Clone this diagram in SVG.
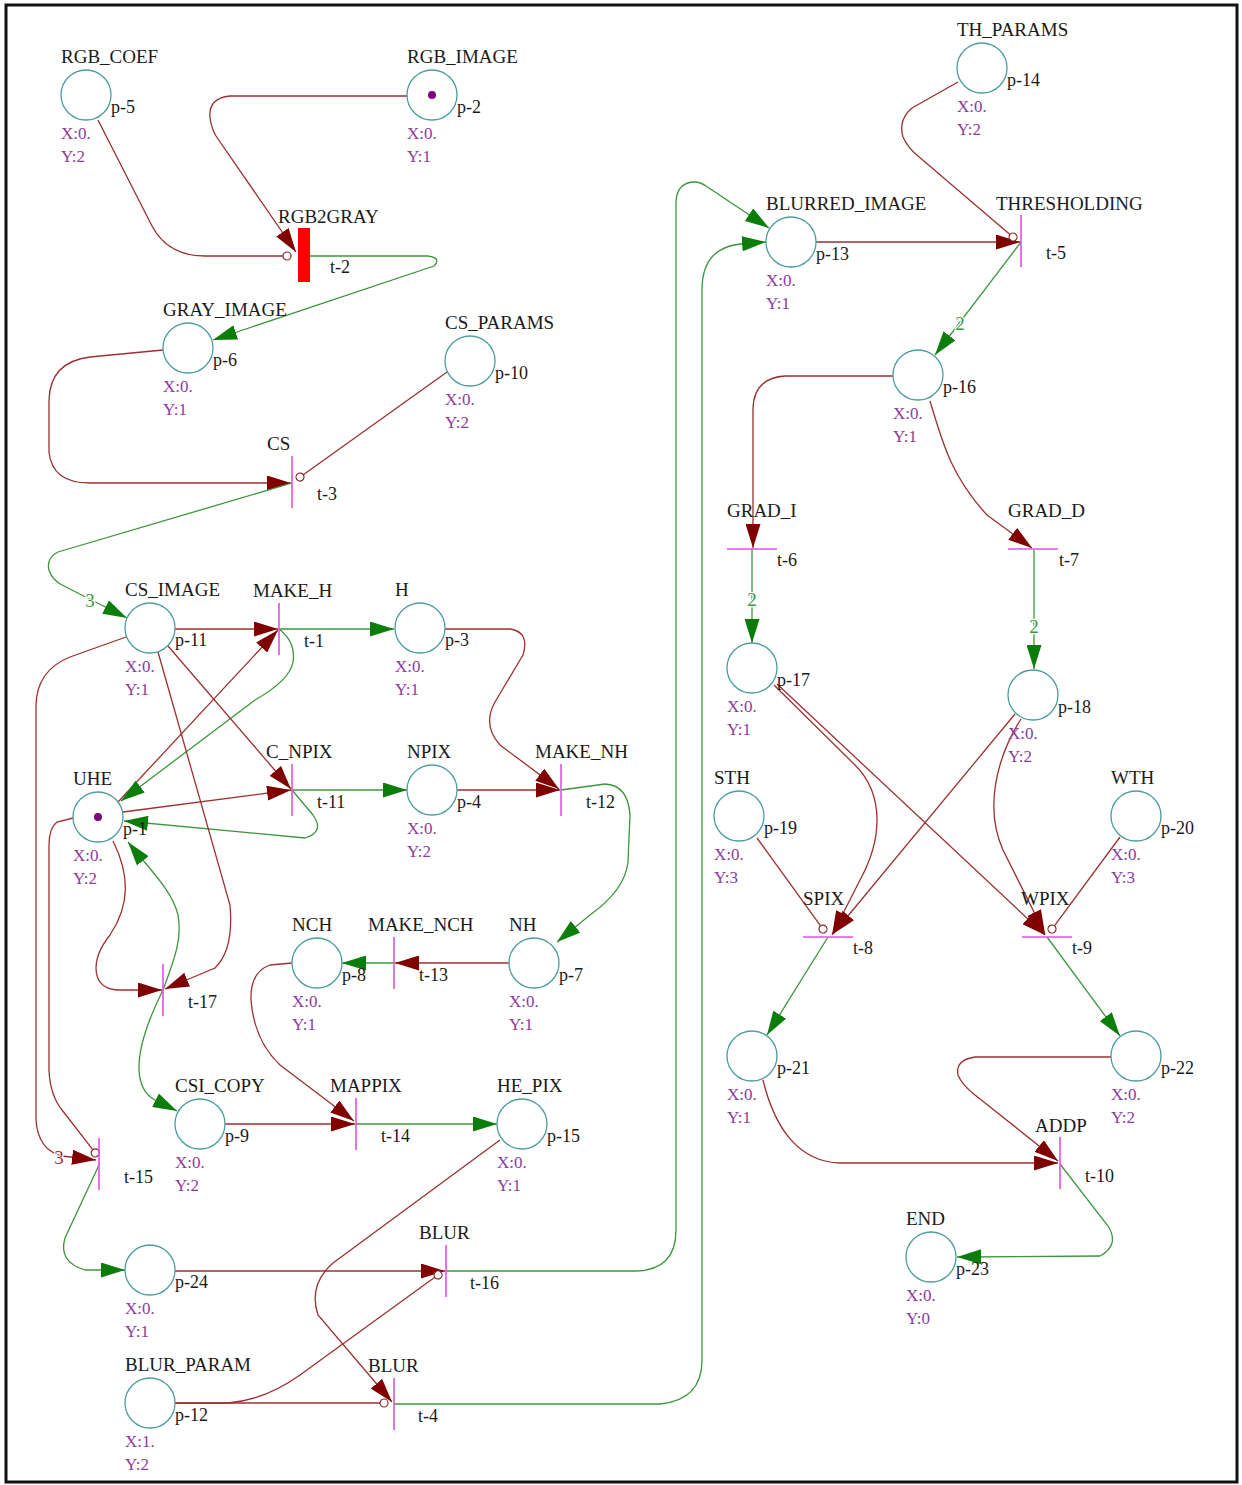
<svg xmlns="http://www.w3.org/2000/svg" width="1242" height="1485" viewBox="0 0 1242 1485">
<style>
.nm{font-family:"Liberation Serif",serif;font-size:19px;fill:#1a1a1a}
.id{font-family:"Liberation Serif",serif;font-size:18px;fill:#1a1a1a}
.xy{font-family:"Liberation Serif",serif;font-size:17px;fill:#8e3b9e}
.w{font-family:"Liberation Serif",serif;font-size:19px;stroke:#fff;stroke-width:2.5;paint-order:stroke}
.pl{fill:#fff;stroke:#4d9d9d;stroke-width:1.3}
.tr{stroke:#e050e0;stroke-width:1.6}
.tk{fill:#800080}
.r{fill:none;stroke:#9b3030;stroke-width:1.3}
.g{fill:none;stroke:#3c963c;stroke-width:1.3}
.ra{marker-end:url(#ar)}
.ga{marker-end:url(#ag)}
.rt{marker-end:url(#tc)}
</style>
<defs>
<marker id="ar" markerUnits="userSpaceOnUse" markerWidth="24" markerHeight="15" refX="24" refY="7.5" orient="auto" viewBox="0 0 24 15"><path d="M0,0 L24,7.5 L0,15 z" fill="#800000"/></marker>
<marker id="ag" markerUnits="userSpaceOnUse" markerWidth="24" markerHeight="15" refX="24" refY="7.5" orient="auto" viewBox="0 0 24 15"><path d="M0,0 L24,7.5 L0,15 z" fill="#0a7d0a"/></marker>
<marker id="tc" markerUnits="userSpaceOnUse" markerWidth="10" markerHeight="10" refX="1" refY="5" orient="auto" viewBox="0 0 10 10"><circle cx="5" cy="5" r="4" fill="#fff" stroke="#8b2a2a" stroke-width="1.2"/></marker>
</defs>
<rect x="0" y="0" width="1242" height="1485" fill="#fff"/>
<rect x="6" y="5" width="1231" height="1477" fill="none" stroke="#111" stroke-width="3"/>

<g id="connectors">
<path class="r rt" d="M98 120 L152 226 Q168 256 205 256 L283 256"/>
<path class="r ra" d="M407 96 L230 96 Q208 98 210 118 Q212 130 216 136 L296 252"/>
<path class="g ga" d="M310 256 L428 256 Q442 258 434 266 L213 340"/>
<path class="r ra" d="M163 350 L90 357 Q50 362 49 400 L49 452 Q52 483 90 483 L291 483"/>
<path class="r rt" d="M447 372 L303.3 474.7"/>
<path class="g ga" d="M292 483 L58 552 Q46 558 49 570 Q52 580 62 585 L127 618"/>
<path class="r ra" d="M175 629 L278 629"/>
<path class="g ga" d="M279 629 L394 629"/>
<path class="r ra" d="M118 802 L278 630"/>
<path class="g ga" d="M279 629 Q296 642 293 662 Q290 680 255 700 L121 801"/>
<path class="r ra" d="M445 629 L510 629 Q530 632 523 655 L495 702 Q482 725 500 745 L559 789"/>
<path class="r ra" d="M457 790 L560 790"/>
<path class="g ga" d="M561 790 L605 784 Q628 785 630 815 L628 862 Q625 890 590 915 L557 942"/>
<path class="r ra" d="M168 646 L291 789"/>
<path class="r ra" d="M123 812 L291 790"/>
<path class="g ga" d="M292 790 L407 790"/>
<path class="g ga" d="M292 790 L313 815 Q325 832 305 838 L124 821"/>
<path class="r ra" d="M158 652 L230 905 Q234 950 215 968 L165 989"/>
<path class="r ra" d="M113 841 C130 875 130 905 110 935 C90 960 90 990 120 990 L162 990"/>
<path class="g ga" d="M163 990 C172 965 183 940 178 915 C172 890 150 870 128 842"/>
<path class="g ga" d="M163 990 Q138 1040 139 1070 Q140 1092 155 1100 L177 1111"/>
<path class="r ra" d="M126 637 L70 657 Q37 670 36 705 L36 1120 Q38 1150 62 1156 L96 1160"/>
<path class="r rt" d="M73 818 L57 822 Q49 828 49 845 L49 1070 Q50 1095 62 1110 L92.8 1149.7"/>
<path class="g ga" d="M99 1165 L65 1238 Q58 1262 85 1270 L125 1270"/>
<path class="r ra" d="M225 1124 L355 1124"/>
<path class="r ra" d="M292 963 L270 965 Q250 972 251 1000 Q254 1040 280 1065 L354 1121"/>
<path class="g ga" d="M356 1124 L497 1124"/>
<path class="r ra" d="M509 963 L395 963"/>
<path class="g ga" d="M394 963 L342 963"/>
<path class="r ra" d="M175 1271 L445 1271"/>
<path class="r rt" d="M175 1403 L228 1403 Q265 1400 300 1375 L434.8 1277.3"/>
<path class="g ga" d="M446 1271 L636 1271 Q676 1270 676 1230 L676 202 Q677 182 695 182 Q700 182 706 186 L769 228"/>
<path class="r rt" d="M175 1403 L380 1403"/>
<path class="r ra" d="M500 1140 L333 1263 Q308 1285 318 1315 L392 1402"/>
<path class="g ga" d="M394 1404 L660 1404 Q702 1400 702 1360 L702 290 Q702 248 740 244 L766 242"/>
<path class="r ra" d="M816 242 L1020 242"/>
<path class="r rt" d="M958 82 L912 108 Q898 120 903 137 Q908 148 918 156 L1010 234.4"/>
<path class="g ga" d="M1021 242 L935 355"/>
<path class="r ra" d="M893 376 L785 376 Q753 378 753 410 L753 548"/>
<path class="g ga" d="M752 549 L752 643"/>
<path class="r ra" d="M930 401 C942 440 950 475 987 515 L1032 548"/>
<path class="g ga" d="M1034 550 L1034 669"/>
<path class="r ra" d="M774 685 L855 765 C885 795 882 840 860 880 L832 935"/>
<path class="r ra" d="M1015 714 L833 934"/>
<path class="r ra" d="M777 684 L1045 935"/>
<path class="r ra" d="M1021 719 C995 760 985 810 1003 850 L1045 934"/>
<path class="r rt" d="M757 838 L820.6 925.8"/>
<path class="r rt" d="M1120 837 L1054.4 925.8"/>
<path class="g ga" d="M828 937 L767 1035"/>
<path class="g ga" d="M1047 937 L1120 1036"/>
<path class="r ra" d="M763 1080 C775 1130 800 1162 840 1163 L1058 1163"/>
<path class="r ra" d="M1111 1057 L975 1057 Q955 1060 958 1075 Q962 1085 975 1095 L1058 1161"/>
<path class="g ga" d="M1060 1164 L1108 1226 Q1120 1245 1100 1256 L957 1257"/>
<text class="w" x="90" y="607" text-anchor="middle" fill="#3c963c">3</text>
<text class="w" x="59" y="1164" text-anchor="middle" fill="#9b3030">3</text>
<text class="w" x="960" y="330" text-anchor="middle" fill="#3c963c">2</text>
<text class="w" x="752" y="606" text-anchor="middle" fill="#3c963c">2</text>
<text class="w" x="1034" y="633" text-anchor="middle" fill="#3c963c">2</text>
</g>

<g id="p-5"><circle class="pl" cx="86" cy="95" r="25"/><text class="nm" x="61" y="63">RGB_COEF</text><text class="id" x="111" y="113">p-5</text><text class="xy" x="61" y="139">X:0.</text><text class="xy" x="61" y="162">Y:2</text></g>
<g id="p-2"><circle class="pl" cx="432" cy="95" r="25"/><circle class="tk" cx="432" cy="95" r="4"/><text class="nm" x="407" y="63">RGB_IMAGE</text><text class="id" x="457" y="113">p-2</text><text class="xy" x="407" y="139">X:0.</text><text class="xy" x="407" y="162">Y:1</text></g>
<g id="p-14"><circle class="pl" cx="982" cy="68" r="25"/><text class="nm" x="957" y="36">TH_PARAMS</text><text class="id" x="1007" y="86">p-14</text><text class="xy" x="957" y="112">X:0.</text><text class="xy" x="957" y="135">Y:2</text></g>
<g id="p-13"><circle class="pl" cx="791" cy="242" r="25"/><text class="nm" x="766" y="210">BLURRED_IMAGE</text><text class="id" x="816" y="260">p-13</text><text class="xy" x="766" y="286">X:0.</text><text class="xy" x="766" y="309">Y:1</text></g>
<g id="p-6"><circle class="pl" cx="188" cy="348" r="25"/><text class="nm" x="163" y="316">GRAY_IMAGE</text><text class="id" x="213" y="366">p-6</text><text class="xy" x="163" y="392">X:0.</text><text class="xy" x="163" y="415">Y:1</text></g>
<g id="p-10"><circle class="pl" cx="470" cy="361" r="25"/><text class="nm" x="445" y="329">CS_PARAMS</text><text class="id" x="495" y="379">p-10</text><text class="xy" x="445" y="405">X:0.</text><text class="xy" x="445" y="428">Y:2</text></g>
<g id="p-16"><circle class="pl" cx="918" cy="375" r="25"/><text class="id" x="943" y="393">p-16</text><text class="xy" x="893" y="419">X:0.</text><text class="xy" x="893" y="442">Y:1</text></g>
<g id="p-11"><circle class="pl" cx="150" cy="628" r="25"/><text class="nm" x="125" y="596">CS_IMAGE</text><text class="id" x="175" y="646">p-11</text><text class="xy" x="125" y="672">X:0.</text><text class="xy" x="125" y="695">Y:1</text></g>
<g id="p-3"><circle class="pl" cx="420" cy="628" r="25"/><text class="nm" x="395" y="596">H</text><text class="id" x="445" y="646">p-3</text><text class="xy" x="395" y="672">X:0.</text><text class="xy" x="395" y="695">Y:1</text></g>
<g id="p-17"><circle class="pl" cx="752" cy="668" r="25"/><text class="id" x="777" y="686">p-17</text><text class="xy" x="727" y="712">X:0.</text><text class="xy" x="727" y="735">Y:1</text></g>
<g id="p-18"><circle class="pl" cx="1033" cy="695" r="25"/><text class="id" x="1058" y="713">p-18</text><text class="xy" x="1008" y="739">X:0.</text><text class="xy" x="1008" y="762">Y:2</text></g>
<g id="p-1"><circle class="pl" cx="98" cy="817" r="25"/><circle class="tk" cx="98" cy="817" r="4"/><text class="nm" x="73" y="785">UHE</text><text class="id" x="123" y="835">p-1</text><text class="xy" x="73" y="861">X:0.</text><text class="xy" x="73" y="884">Y:2</text></g>
<g id="p-4"><circle class="pl" cx="432" cy="790" r="25"/><text class="nm" x="407" y="758">NPIX</text><text class="id" x="457" y="808">p-4</text><text class="xy" x="407" y="834">X:0.</text><text class="xy" x="407" y="857">Y:2</text></g>
<g id="p-19"><circle class="pl" cx="739" cy="816" r="25"/><text class="nm" x="714" y="784">STH</text><text class="id" x="764" y="834">p-19</text><text class="xy" x="714" y="860">X:0.</text><text class="xy" x="714" y="883">Y:3</text></g>
<g id="p-20"><circle class="pl" cx="1136" cy="816" r="25"/><text class="nm" x="1111" y="784">WTH</text><text class="id" x="1161" y="834">p-20</text><text class="xy" x="1111" y="860">X:0.</text><text class="xy" x="1111" y="883">Y:3</text></g>
<g id="p-8"><circle class="pl" cx="317" cy="963" r="25"/><text class="nm" x="292" y="931">NCH</text><text class="id" x="342" y="981">p-8</text><text class="xy" x="292" y="1007">X:0.</text><text class="xy" x="292" y="1030">Y:1</text></g>
<g id="p-7"><circle class="pl" cx="534" cy="963" r="25"/><text class="nm" x="509" y="931">NH</text><text class="id" x="559" y="981">p-7</text><text class="xy" x="509" y="1007">X:0.</text><text class="xy" x="509" y="1030">Y:1</text></g>
<g id="p-21"><circle class="pl" cx="752" cy="1056" r="25"/><text class="id" x="777" y="1074">p-21</text><text class="xy" x="727" y="1100">X:0.</text><text class="xy" x="727" y="1123">Y:1</text></g>
<g id="p-22"><circle class="pl" cx="1136" cy="1056" r="25"/><text class="id" x="1161" y="1074">p-22</text><text class="xy" x="1111" y="1100">X:0.</text><text class="xy" x="1111" y="1123">Y:2</text></g>
<g id="p-9"><circle class="pl" cx="200" cy="1124" r="25"/><text class="nm" x="175" y="1092">CSI_COPY</text><text class="id" x="225" y="1142">p-9</text><text class="xy" x="175" y="1168">X:0.</text><text class="xy" x="175" y="1191">Y:2</text></g>
<g id="p-15"><circle class="pl" cx="522" cy="1124" r="25"/><text class="nm" x="497" y="1092">HE_PIX</text><text class="id" x="547" y="1142">p-15</text><text class="xy" x="497" y="1168">X:0.</text><text class="xy" x="497" y="1191">Y:1</text></g>
<g id="p-24"><circle class="pl" cx="150" cy="1270" r="25"/><text class="id" x="175" y="1288">p-24</text><text class="xy" x="125" y="1314">X:0.</text><text class="xy" x="125" y="1337">Y:1</text></g>
<g id="p-12"><circle class="pl" cx="150" cy="1403" r="25"/><text class="nm" x="125" y="1371">BLUR_PARAM</text><text class="id" x="175" y="1421">p-12</text><text class="xy" x="125" y="1447">X:1.</text><text class="xy" x="125" y="1470">Y:2</text></g>
<g id="p-23"><circle class="pl" cx="931" cy="1257" r="25"/><text class="nm" x="906" y="1225">END</text><text class="id" x="956" y="1275">p-23</text><text class="xy" x="906" y="1301">X:0.</text><text class="xy" x="906" y="1324">Y:0</text></g>

<g id="t-2"><rect x="298" y="228" width="12" height="54" fill="#f00"/><text class="nm" x="278" y="223">RGB2GRAY</text><text class="id" x="330" y="273">t-2</text></g>
<g id="t-3"><line class="tr" x1="292" y1="456" x2="292" y2="508"/><text class="nm" x="267" y="450">CS</text><text class="id" x="317" y="500">t-3</text></g>
<g id="t-1"><line class="tr" x1="279" y1="603" x2="279" y2="655"/><text class="nm" x="253" y="597">MAKE_H</text><text class="id" x="304" y="647">t-1</text></g>
<g id="t-11"><line class="tr" x1="292" y1="764" x2="292" y2="816"/><text class="nm" x="266" y="758">C_NPIX</text><text class="id" x="317" y="808">t-11</text></g>
<g id="t-12"><line class="tr" x1="561" y1="764" x2="561" y2="816"/><text class="nm" x="535" y="758">MAKE_NH</text><text class="id" x="586" y="808">t-12</text></g>
<g id="t-13"><line class="tr" x1="394" y1="937" x2="394" y2="989"/><text class="nm" x="368" y="931">MAKE_NCH</text><text class="id" x="419" y="981">t-13</text></g>
<g id="t-17"><line class="tr" x1="163" y1="964" x2="163" y2="1016"/><text class="id" x="188" y="1008">t-17</text></g>
<g id="t-14"><line class="tr" x1="356" y1="1098" x2="356" y2="1150"/><text class="nm" x="330" y="1092">MAPPIX</text><text class="id" x="381" y="1142">t-14</text></g>
<g id="t-15"><line class="tr" x1="99" y1="1138" x2="99" y2="1190"/><text class="id" x="124" y="1183">t-15</text></g>
<g id="t-16"><line class="tr" x1="446" y1="1245" x2="446" y2="1297"/><text class="nm" x="419" y="1239">BLUR</text><text class="id" x="470" y="1289">t-16</text></g>
<g id="t-4"><line class="tr" x1="394" y1="1378" x2="394" y2="1430"/><text class="nm" x="368" y="1372">BLUR</text><text class="id" x="418" y="1422">t-4</text></g>
<g id="t-5"><line class="tr" x1="1021" y1="215" x2="1021" y2="267"/><text class="nm" x="996" y="210">THRESHOLDING</text><text class="id" x="1046" y="259">t-5</text></g>
<g id="t-6"><line class="tr" x1="727" y1="549" x2="777" y2="549"/><text class="nm" x="727" y="517">GRAD_I</text><text class="id" x="777" y="566">t-6</text></g>
<g id="t-7"><line class="tr" x1="1008" y1="549" x2="1058" y2="549"/><text class="nm" x="1008" y="517">GRAD_D</text><text class="id" x="1059" y="566">t-7</text></g>
<g id="t-8"><line class="tr" x1="803" y1="937" x2="853" y2="937"/><text class="nm" x="803" y="905">SPIX</text><text class="id" x="853" y="954">t-8</text></g>
<g id="t-9"><line class="tr" x1="1022" y1="937" x2="1072" y2="937"/><text class="nm" x="1021" y="905">WPIX</text><text class="id" x="1072" y="954">t-9</text></g>
<g id="t-10"><line class="tr" x1="1060" y1="1137" x2="1060" y2="1189"/><text class="nm" x="1035" y="1132">ADDP</text><text class="id" x="1085" y="1182">t-10</text></g>
</svg>
